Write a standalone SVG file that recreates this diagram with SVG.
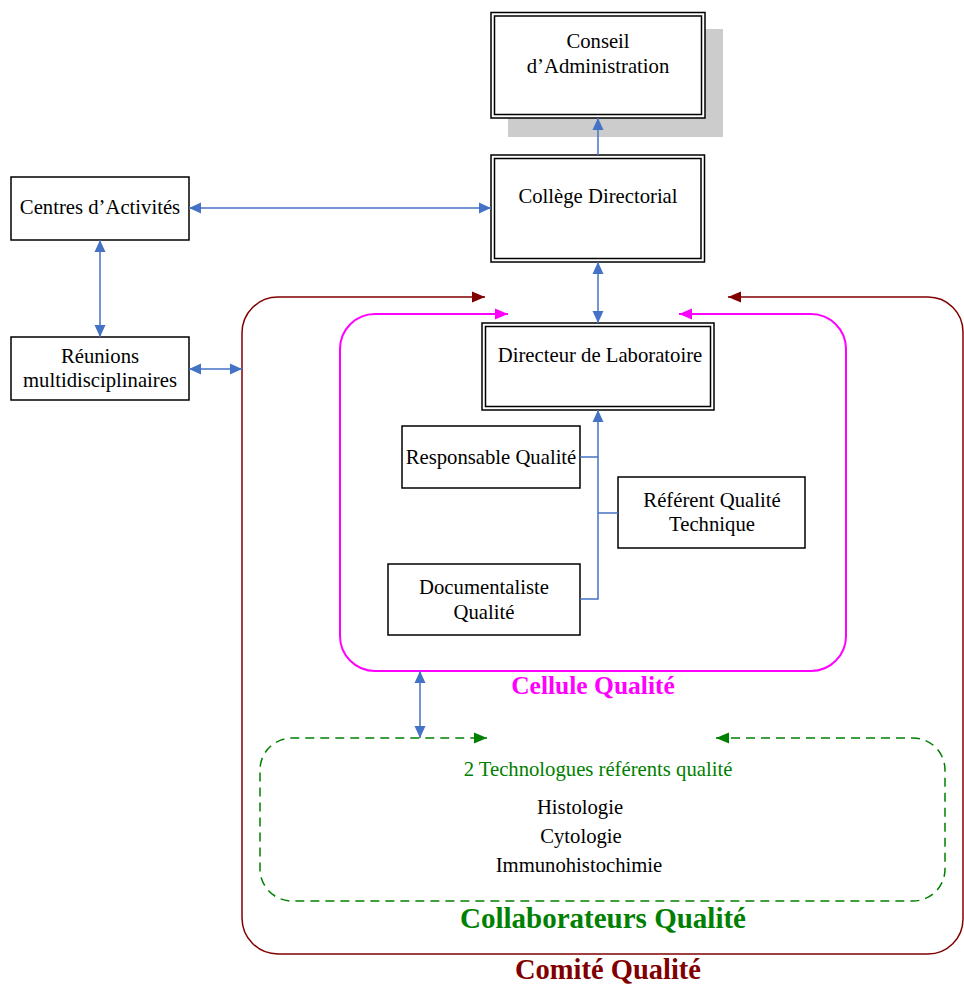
<svg xmlns="http://www.w3.org/2000/svg" width="964" height="986" viewBox="0 0 964 986">
<style>
text{font-family:"Liberation Serif","Times New Roman",serif;font-size:20.7px;fill:#000;text-anchor:middle}
.box{fill:#fff;stroke:#000;stroke-width:1.5}
.dbl{fill:none;stroke:#000;stroke-width:1.5}
.blue{fill:none;stroke:#4472C4;stroke-width:1.5}
.red{fill:none;stroke:#800000;stroke-width:1.5}
.mag{fill:none;stroke:#FF00FF;stroke-width:2}
.grn{fill:none;stroke:#008000;stroke-width:1.5;stroke-dasharray:9 6}
.b{font-weight:bold}
</style>
<defs>
<marker id="ab" markerUnits="userSpaceOnUse" markerWidth="12" markerHeight="12" refX="12" refY="6" orient="auto-start-reverse"><path d="M0,0.5 L12,6 L0,11.5 z" fill="#4472C4"/></marker>
<marker id="ar" markerUnits="userSpaceOnUse" markerWidth="14" markerHeight="12" refX="13" refY="6" orient="auto-start-reverse"><path d="M0,0.5 L13,6 L0,11.5 z" fill="#800000"/></marker>
<marker id="am" markerUnits="userSpaceOnUse" markerWidth="14" markerHeight="12" refX="13" refY="6" orient="auto-start-reverse"><path d="M0,0.5 L13,6 L0,11.5 z" fill="#FF00FF"/></marker>
<marker id="ag" markerUnits="userSpaceOnUse" markerWidth="14" markerHeight="12" refX="13" refY="6" orient="auto-start-reverse"><path d="M0,0.5 L13,6 L0,11.5 z" fill="#008000"/></marker>
</defs>

<g id="comite">
<path class="red" d="M728,297 L928,297 A35,35 0 0 1 963,332 L963,919 A35,35 0 0 1 928,954 L278,954 A36,36 0 0 1 242,918 L242,333 A36,36 0 0 1 278,297 L485,297" marker-start="url(#ar)" marker-end="url(#ar)"/>
<text class="b" x="608" y="979" style="font-size:28.5px;fill:#800000">Comité Qualité</text>
</g>

<g id="cellule">
<path class="mag" d="M679,314 L811,314 A35,35 0 0 1 846,349 L846,636 A35,35 0 0 1 811,671 L375,671 A35,35 0 0 1 340,636 L340,349 A35,35 0 0 1 375,314 L508,314" marker-start="url(#am)" marker-end="url(#am)"/>
<text class="b" x="593" y="694" style="font-size:25.5px;fill:#FF00FF">Cellule Qualité</text>
</g>

<g id="collaborateurs">
<path class="grn" d="M716,738 L913,738 A32,32 0 0 1 945,770 L945,869 A32,32 0 0 1 913,901 L292,901 A32,32 0 0 1 260,869 L260,770 A32,32 0 0 1 292,738 L487,738" marker-start="url(#ag)" marker-end="url(#ag)"/>
<text x="598" y="776" style="fill:#008000">2 Technologues référents qualité</text>
<text x="580" y="814">Histologie</text>
<text x="581" y="843">Cytologie</text>
<text x="579" y="872">Immunohistochimie</text>
<text class="b" x="603" y="928" style="font-size:29px;fill:#008000">Collaborateurs Qualité</text>
</g>

<g id="conseil">
<rect x="508" y="29" width="215" height="108" fill="#CCCCCC"/>
<rect class="box" x="491" y="12.5" width="214" height="105.5"/>
<rect class="dbl" x="494.5" y="16" width="207" height="98.5"/>
<text x="598" y="48">Conseil</text>
<text x="598" y="73">d’Administration</text>
</g>

<g id="college">
<rect class="box" x="491" y="155" width="213.5" height="107"/>
<rect class="dbl" x="494.5" y="158.5" width="206.5" height="100"/>
<text x="598" y="203">Collège Directorial</text>
</g>

<g id="directeur">
<rect class="box" x="482" y="323" width="232" height="87"/>
<rect class="dbl" x="485.5" y="326.5" width="225" height="80"/>
<text x="600" y="362">Directeur de Laboratoire</text>
</g>

<g id="centres">
<rect class="box" x="11" y="177" width="178" height="63"/>
<text x="100" y="214">Centres d’Activités</text>
</g>

<g id="reunions">
<rect class="box" x="11" y="337" width="178" height="63"/>
<text x="100" y="363">Réunions</text>
<text x="100" y="387">multidisciplinaires</text>
</g>

<g id="responsable">
<rect class="box" x="402" y="426" width="178" height="62"/>
<text x="491" y="464">Responsable Qualité</text>
</g>

<g id="referent">
<rect class="box" x="618" y="477" width="187" height="71"/>
<text x="712" y="507">Référent Qualité</text>
<text x="712" y="531">Technique</text>
</g>

<g id="documentaliste">
<rect class="box" x="388" y="564" width="192" height="71"/>
<text x="484" y="594">Documentaliste</text>
<text x="484" y="619">Qualité</text>
</g>

<g id="connectors">
<path class="blue" d="M598,155 L598,118" marker-end="url(#ab)"/>
<path class="blue" d="M598,262 L598,323" marker-start="url(#ab)" marker-end="url(#ab)"/>
<path class="blue" d="M189,208 L491,208" marker-start="url(#ab)" marker-end="url(#ab)"/>
<path class="blue" d="M100,240 L100,337" marker-start="url(#ab)" marker-end="url(#ab)"/>
<path class="blue" d="M189,369 L242,369" marker-start="url(#ab)" marker-end="url(#ab)"/>
<path class="blue" d="M420,671 L420,738" marker-start="url(#ab)" marker-end="url(#ab)"/>
<path class="blue" d="M580,599 L598,599 L598,410" marker-end="url(#ab)"/>
<path class="blue" d="M580,457 L598,457"/>
<path class="blue" d="M598,513 L618,513"/>
</g>
</svg>
